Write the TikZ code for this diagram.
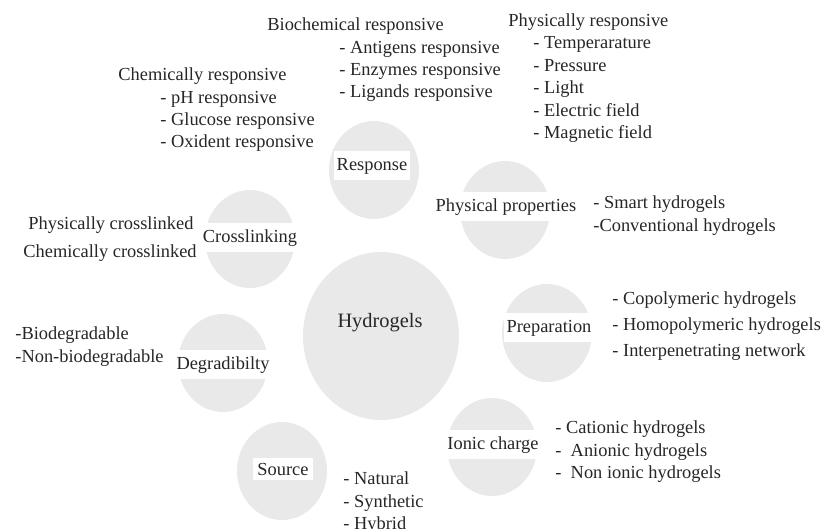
\documentclass[tikz,border=0pt]{standalone}
\usepackage{fontspec}
\setmainfont{Liberation Serif}
\usetikzlibrary{shapes.geometric}
\definecolor{bubblegray}{RGB}{233,233,233}
\tikzset{
  bubble/.style={ellipse, fill=bubblegray, minimum width=45pt, minimum height=49pt, inner sep=0pt},
  bandlabel/.style={fill=white, inner xsep=1.5pt, inner ysep=0pt, minimum height=14.5pt, font=\fontsize{9.2}{11.2}\selectfont},
  listtext/.style={anchor=north west, align=left, inner sep=0pt, font=\fontsize{9.2}{11.2}\selectfont},
}
\begin{document}
\begin{tikzpicture}[x=0.5pt, y=-0.5pt, text=black!85]
        \useasboundingbox (0,0) rectangle (821,529);

        % Define the bubbles
        \node[bubble, minimum width=78pt, minimum height=84pt] (hydro) at (381,336) {};
        \node[bubble] (resp) at (374,170) {};
        \node[bubble] (props) at (505,210) {};
        \node[bubble] (cross) at (250,239) {};
        \node[bubble] (prep) at (547,333) {};
        \node[bubble] (degr) at (223,363) {};
        \node[bubble] (ionic) at (492,447) {};
        \node[bubble] (src) at (282,471) {};

        % Labels on the bubbles
        \node[font=\fontsize{10.2}{12}\selectfont] (hydrolab) at (380,323) {Hydrogels};
        \node[bandlabel] (resplab) at (372,166) {Response};
        \node[bandlabel] (propslab) at (506,207) {Physical properties};
        \node[bandlabel] (crosslab) at (250,238) {Crosslinking};
        \node[bandlabel] (preplab) at (549,328) {Preparation};
        \node[bandlabel] (degrlab) at (223,365) {Degradibilty};
        \node[bandlabel] (ioniclab) at (493,445) {Ionic charge};
        \node[bandlabel, inner xsep=2.25pt, minimum height=11pt] (srclab) at (283,469) {Source};

        % The lists
        \node[listtext] (chemhead) at (118,67.5) {Chemically responsive};
        \node[listtext] (chemlist) at (160,90.5) {- pH responsive\\- Glucose responsive\\- Oxident responsive};
        \node[listtext] (biohead) at (267,17.5) {Biochemical responsive};
        \node[listtext] (biolist) at (339,40.5) {- Antigens responsive\\- Enzymes responsive\\- Ligands responsive};
        \node[listtext] (physhead) at (508,13.5) {Physically responsive};
        \node[listtext] (physlist) at (533,36.5) {- Temperarature\\- Pressure\\- Light\\- Electric field\\- Magnetic field};
        \node[listtext] (propslist) at (593,195.5) {- Smart hydrogels\\-Conventional hydrogels};
        \node[listtext] (physcross) at (28,216.5) {Physically crosslinked};
        \node[listtext] (chemcross) at (23,244.5) {Chemically crosslinked};
        \node[listtext] (degrlist) at (15,326.5) {-Biodegradable\\-Non-biodegradable};
        \node[listtext] (preplist) at (612,291.5) {- Copolymeric hydrogels\\[1.8pt]- Homopolymeric hydrogels\\[1.8pt]- Interpenetrating network};
        \node[listtext] (ioniclist) at (555,420.5) {- Cationic hydrogels\\-\ \ Anionic hydrogels\\-\ \ Non ionic hydrogels};
        \node[listtext] (srclist) at (343,471.5) {- Natural\\- Synthetic\\- Hybrid};
    \end{tikzpicture}
\end{document}
